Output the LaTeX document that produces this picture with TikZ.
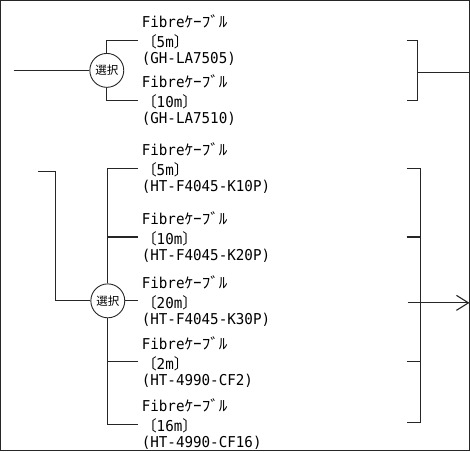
\documentclass[tikz,border=0pt]{standalone}
\usepackage{fontspec}
\usepackage{tikz}
\usetikzlibrary{arrows.meta,positioning}
\setmonofont[FakeStretch=0.95]{DejaVu Sans Mono}
\newfontfamily\jpfont{Noto Sans CJK JP}
\newfontfamily\jphw[FakeStretch=1.15]{Noto Sans CJK JP}
\newcommand{\fibrelabel}[2]{Fibre{\jphw ｹｰﾌﾞﾙ}\\{\jpfont 〔}#1{\jpfont 〕}\\[-4pt](#2)}

\begin{document}
\begin{tikzpicture}[
  x=1pt, y=-1pt,
  line width=1.1pt,
  every path/.style={draw=black!85},
  sel/.style={circle, draw, line width=0.9pt, minimum size=34pt, inner sep=0pt,
    font=\jpfont\fontsize{11.5}{11.5}\selectfont},
  cable/.style={anchor=west, align=left, inner sep=0pt, inner xsep=3pt,
    font=\ttfamily\fontsize{15}{20}\selectfont}
]
  \useasboundingbox (0,0) rectangle (470,451);

  \node[sel] (sel1) at (106.5,70) {選択};
  \node[cable] (ga) at (138,40) {\fibrelabel{5m}{GH-LA7505}};
  \node[cable] (gb) at (138,100) {\fibrelabel{10m}{GH-LA7510}};
  \coordinate (in1) at (13,70);
  \draw (in1) -- (sel1.west);
  \draw (sel1) |- (ga.west);
  \draw (sel1) |- (gb.west);

  \draw (407,40) -- (418,40) -- (418,100) -- (407,100);
  \coordinate (out1) at (470,72);
  \draw (418,72) -- (out1);

  \node[sel] (sel2) at (107.5,301) {選択};
  \node[cable] (ha) at (138,168) {\fibrelabel{5m}{HT-F4045-K10P}};
  \node[cable] (hb) at (138,237) {\fibrelabel{10m}{HT-F4045-K20P}};
  \node[cable] (hc) at (138,301) {\fibrelabel{20m}{HT-F4045-K30P}};
  \node[cable] (hd) at (138,362) {\fibrelabel{2m}{HT-4990-CF2}};
  \node[cable] (he) at (138,425) {\fibrelabel{16m}{HT-4990-CF16}};
  \coordinate (in2) at (38,171);
  \draw (in2) -- ++(17,0) |- (sel2.west);
  \draw (sel2) |- (ha.west);
  \draw (sel2) |- (he.west);
  \draw (sel2.north |- hb.west) -- (hb.west);
  \draw (sel2.south |- hd.west) -- (hd.west);
  \draw (sel2.east) -- (hc.west);

  \draw (407,168) -- (421,168) -- (421,423) -- (407,423);
  \draw (407,237) -- (421,237);
  \draw (407,362) -- (421,362);
  \coordinate (out2) at (470,303);
  \draw[-{Straight Barb[length=12pt,width=15pt]}] (408,303) -- (out2);
\end{tikzpicture}
\end{document}
